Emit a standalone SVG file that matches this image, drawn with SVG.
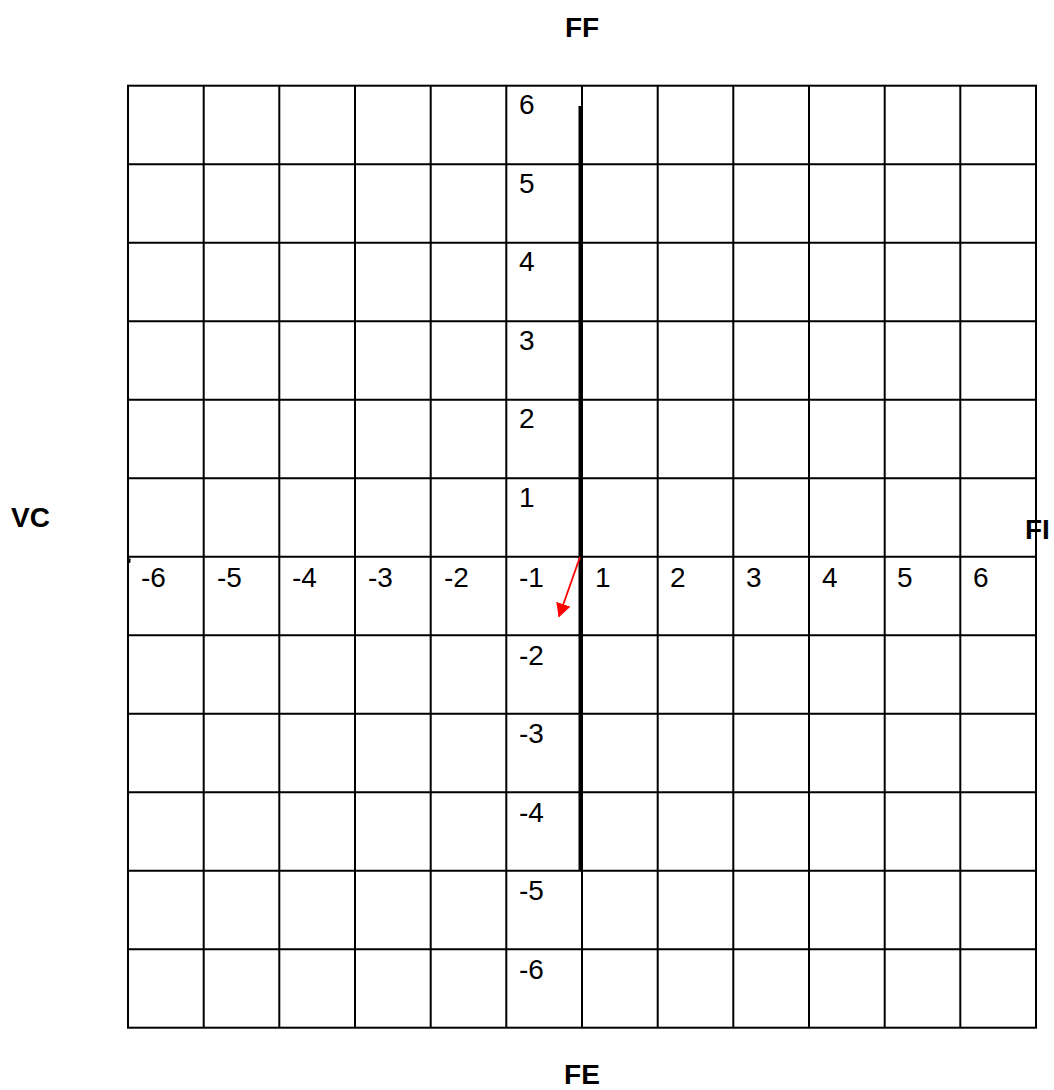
<svg xmlns="http://www.w3.org/2000/svg" width="1054" height="1090" viewBox="0 0 1054 1090">
<defs>
<style>
.g{stroke:#000;stroke-width:2;fill:none}
.n{font-family:"Liberation Sans",Arial,sans-serif;font-size:28px;fill:#000}
.b{font-family:"Liberation Sans",Arial,sans-serif;font-size:28px;font-weight:bold;fill:#000}
</style>
<marker id="ah" markerWidth="14" markerHeight="15" refX="13" refY="7.5" orient="auto" markerUnits="userSpaceOnUse" viewBox="0 0 14 15">
<path d="M0,0 L14,7.5 L0,15 z" fill="#ff0000"/>
</marker>
</defs>
<rect width="1054" height="1090" fill="#fff"/>
<g id="grid" class="g">
<rect x="128" y="85.7" width="908" height="942"/>
<path d="M203.7,85.7V1027.7M279.3,85.7V1027.7M355,85.7V1027.7M430.7,85.7V1027.7M506.3,85.7V1027.7M582,85.7V1027.7M657.7,85.7V1027.7M733.3,85.7V1027.7M809,85.7V1027.7M884.7,85.7V1027.7M960.3,85.7V1027.7"/>
<path d="M128,164.2H1036M128,242.7H1036M128,321.2H1036M128,399.7H1036M128,478.2H1036M128,556.7H1036M128,635.2H1036M128,713.7H1036M128,792.2H1036M128,870.7H1036M128,949.2H1036"/>
</g>
<g id="ylabels" class="n">
<text x="519" y="114">6</text>
<text x="519" y="193">5</text>
<text x="519" y="271">4</text>
<text x="519" y="350">3</text>
<text x="519" y="428">2</text>
<text x="519" y="507">1</text>
<text x="519" y="665">-2</text>
<text x="519" y="743">-3</text>
<text x="519" y="822">-4</text>
<text x="519" y="900">-5</text>
<text x="519" y="979">-6</text>
</g>
<g id="xlabels" class="n">
<text x="141" y="587">-6</text>
<text x="217" y="587">-5</text>
<text x="292" y="587">-4</text>
<text x="368" y="587">-3</text>
<text x="444" y="587">-2</text>
<text x="519" y="587">-1</text>
<text x="595" y="587">1</text>
<text x="670" y="587">2</text>
<text x="746" y="587">3</text>
<text x="822" y="587">4</text>
<text x="897" y="587">5</text>
<text x="973" y="587">6</text>
</g>
<g id="axis">
<line x1="580" y1="106" x2="580" y2="870" stroke="#000" stroke-width="3"/>
<line x1="130" y1="558.5" x2="129.5" y2="563" stroke="#000" stroke-width="1.5"/>
</g>
<g id="connectors">
<line x1="580" y1="557" x2="559" y2="616.5" stroke="#ff0000" stroke-width="1.8" marker-end="url(#ah)"/>
</g>
<g id="labels" class="b">
<text x="582" y="37" text-anchor="middle">FF</text>
<text x="582" y="1084" text-anchor="middle">FE</text>
<text x="11" y="527">VC</text>
<text x="1025" y="539">FI</text>
</g>
</svg>
